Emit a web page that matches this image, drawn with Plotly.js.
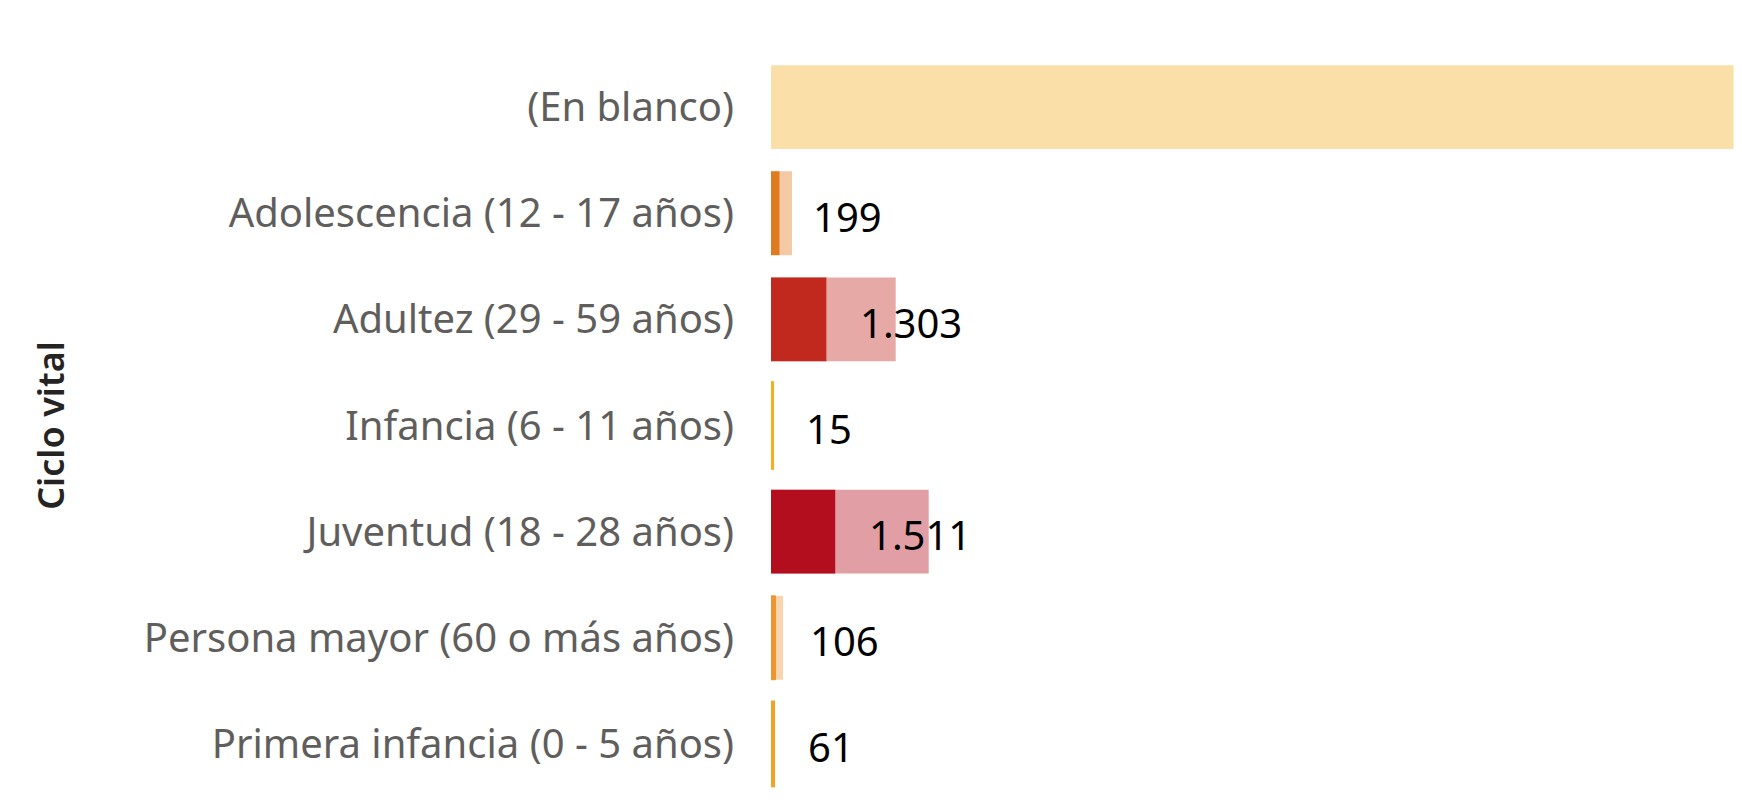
<!DOCTYPE html>
<html>
<head>
<meta charset="utf-8">
<script src="https://cdn.plot.ly/plotly-3.0.1.min.js"></script>
<style>html,body{margin:0;padding:0;background:#fff;}#chart{width:1742px;height:811px;}</style>
</head>
<body>
<div id="chart"></div>
<script>
// Data
const categories = ["(En blanco)", "Adolescencia (12 - 17 años)", "Adultez (29 - 59 años)", "Infancia (6 - 11 años)", "Juventud (18 - 28 años)", "Persona mayor (60 o más años)", "Primera infancia (0 - 5 años)"];
const highlighted = [null, 199, 1303, 15, 1511, 106, 61];
const totals = [22650, 494, 2934, 15, 3711, 282, 61];
const colors = ["#F2B125", "#E07A1F", "#C1291E", "#F4AE1E", "#B30E1E", "#EE9530", "#F1A325"];
const axisTitle = "Ciclo vital";

const xMax = 22660;
const plotW = 963;
const pxPerUnit = plotW / xMax;
const minPx = 5.5;
const lineWidths = highlighted.map(v => (v == null) ? 0 : Math.max(0, minPx - v * pxPerUnit));

function fmt(v) {
  return String(v).replace(/\B(?=(\d{3})+(?!\d))/g, ".");
}

const font = "Noto Sans, Open Sans, sans-serif";

const traces = [
  {
    type: "bar", orientation: "h", y: categories, x: totals,
    marker: {color: colors, opacity: 0.4},
    hoverinfo: "skip", showlegend: false
  },
  {
    type: "bar", orientation: "h", y: categories, x: highlighted,
    marker: {color: colors, line: {color: colors, width: lineWidths}},
    hoverinfo: "skip", showlegend: false
  }
];

const annotations = [];
highlighted.forEach((v, i) => {
  if (v == null) return;
  annotations.push({
    x: v, y: categories[i], xref: "x", yref: "y",
    text: fmt(v), showarrow: false, xanchor: "left", yanchor: "middle",
    xshift: 32, yshift: -3,
    font: {family: font, size: 40, color: "#000000"}
  });
});

const layout = {
  width: 1742, height: 811,
  margin: {l: 771, r: 8, t: 54, b: 14},
  paper_bgcolor: "#ffffff", plot_bgcolor: "#ffffff",
  barmode: "overlay", bargap: 0.21,
  showlegend: false,
  xaxis: {range: [0, xMax], autorange: false, showgrid: false, zeroline: false, showticklabels: false, showline: false, fixedrange: true},
  yaxis: {
    type: "category", autorange: "reversed", showgrid: false, zeroline: false, showline: false,
    ticks: "", ticklabelstandoff: 36,
    tickfont: {family: font, size: 40, color: "#605E5C"},
    title: {text: axisTitle, standoff: 68, font: {family: font, size: 36, color: "#252423", weight: 600}}
  },
  annotations: annotations
};

Plotly.newPlot("chart", traces, layout, {displayModeBar: false, staticPlot: true});
</script>
</body>
</html>
